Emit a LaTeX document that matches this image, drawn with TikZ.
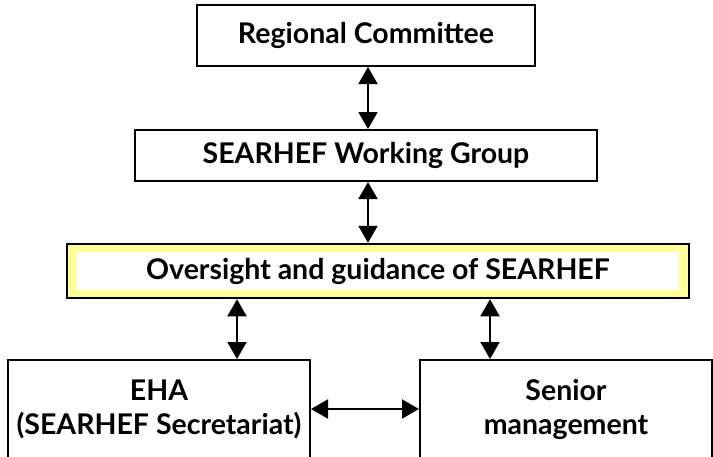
\documentclass[tikz,border=0pt]{standalone}
\usepackage{fontspec}
\setmainfont{Lato}
\usetikzlibrary{arrows.meta}
\definecolor{paleyellow}{RGB}{255,255,153}
\begin{document}
\begin{tikzpicture}[x=1pt,y=-1pt,
  txt/.style={font=\fontsize{28.5}{34}\selectfont\bfseries,align=center},
  box/.style={draw=black,line width=2pt,fill=white,inner sep=0pt,txt},
  arr/.style={line width=2pt,{Triangle[width=19pt,length=17pt]}-{Triangle[width=19pt,length=17pt]}}]
  \useasboundingbox (0,0) rectangle (713,456);
  \clip (0,0) rectangle (713,456);

  % top of the chain
  \node[box,minimum width=338pt,minimum height=61pt] (RC) at (366,35.5) {Regional Committee};
  \node[box,minimum width=462pt,minimum height=51pt] (WG) at (366,155.5) {SEARHEF Working Group};

  % yellow framed box: outer frame, then white panel with the text
  \node[draw=black,line width=2.5pt,fill=paleyellow,minimum width=622pt,minimum height=54pt,inner sep=0pt] (OVf) at (378,271) {};
  \node[fill=white,minimum width=602pt,minimum height=38pt,inner sep=0pt,txt] (OV) at (378,271) {Oversight and guidance of SEARHEF};

  % bottom row
  \node[box,minimum width=302pt,minimum height=98pt] (EHA) at (159,409) {EHA\\(SEARHEF Secretariat)};
  \node[box,minimum width=292pt,minimum height=98pt] (SM) at (566,409) {Senior\\management};

  % connectors
  \draw[arr] ([xshift=2pt]RC.south) -- ([xshift=2pt]RC.south |- WG.north);
  \draw[arr] ([xshift=2pt]WG.south) -- ([xshift=2pt]WG.south |- OVf.north);
  \draw[arr] ([xshift=78pt]EHA.north |- OVf.south) -- ([xshift=78pt]EHA.north);
  \draw[arr] ([xshift=-76pt]SM.north |- OVf.south) -- ([xshift=-76pt]SM.north);
  \draw[arr] (EHA.east) -- (SM.west);
\end{tikzpicture}
\end{document}
